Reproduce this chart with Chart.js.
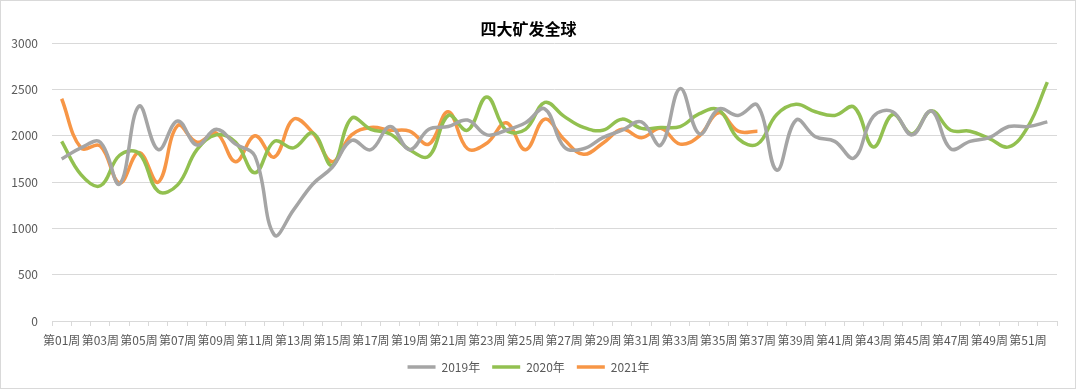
<!DOCTYPE html>
<html>
<head>
<meta charset="utf-8">
<script src="https://cdn.jsdelivr.net/npm/chart.js@4"></script>
<style>
  html, body { margin: 0; padding: 0; background: #fff; }
  #wrap { position: relative; width: 1080px; height: 391px; }
  #frame { position: absolute; left: 0; top: 0; width: 1076px; height: 389px; box-sizing: border-box; border: 1px solid #d9d9d9; }
  canvas { position: absolute; left: 0; top: 0; }
</style>
</head>
<body>
<div id="wrap">
  <div id="frame"></div>
  <canvas id="oreChart" width="1080" height="391"></canvas>
</div>
<script>
// weeks 01..52
const weeks = [];
for (let w = 1; w <= 52; w++) weeks.push('第' + String(w).padStart(2, '0') + '周');

const yTicks = [0, 500, 1000, 1500, 2000, 2500, 3000];

const ship2019 = [1750, 1870, 1930, 1480, 2320, 1850, 2160, 1900, 2070, 1910,
                  1780, 930, 1200, 1480, 1660, 1950, 1850, 2100, 1850, 2070,
                  2100, 2170, 2010, 2060, 2140, 2290, 1880, 1860, 1980, 2060,
                  2150, 1900, 2510, 2020, 2290, 2220, 2330, 1630, 2170, 1990,
                  1940, 1760, 2210, 2260, 2010, 2270, 1860, 1940, 1980, 2100,
                  2100, 2150];

const ship2020 = [1940, 1580, 1460, 1790, 1810, 1400, 1470, 1850, 2010, 1930,
                  1600, 1940, 1870, 2030, 1680, 2190, 2070, 2020, 1850, 1780,
                  2220, 2060, 2420, 2060, 2070, 2360, 2210, 2090, 2060, 2180,
                  2080, 2090, 2100, 2240, 2280, 1970, 1910, 2230, 2340, 2260,
                  2220, 2310, 1880, 2230, 2020, 2270, 2060, 2050, 1970, 1880,
                  2100, 2580];

const ship2021 = [2400, 1870, 1890, 1490, 1820, 1500, 2110, 1930, 2030, 1720,
                  2000, 1770, 2180, 2030, 1720, 2010, 2090, 2060, 2050, 1910,
                  2260, 1860, 1920, 2140, 1850, 2180, 1960, 1800, 1920, 2070,
                  1980, 2080, 1910, 2000, 2250, 2050, 2050];

const FONT = '"Noto Sans CJK SC", "Noto Sans", sans-serif';

var ctx = document.getElementById('oreChart').getContext('2d');
var oreChart = new Chart(ctx, {
    type: 'line',
    data: {
        labels: weeks,
        datasets: [{
            label: '2019年',
            data: ship2019,
            borderColor: '#a5a5a5',
            backgroundColor: '#a5a5a5',
            borderWidth: 3.5,
            pointRadius: 0,
            tension: 0.4
        }, {
            label: '2020年',
            data: ship2020,
            borderColor: '#92c050',
            backgroundColor: '#92c050',
            borderWidth: 3.5,
            pointRadius: 0,
            tension: 0.4
        }, {
            label: '2021年',
            data: ship2021,
            borderColor: '#f79646',
            backgroundColor: '#f79646',
            borderWidth: 3.5,
            pointRadius: 0,
            tension: 0.4
        }]
    },
    options: {
        responsive: false,
        animation: false,
        layout: { padding: { left: 0, right: 23, top: 0, bottom: 8 } },
        plugins: {
            title: {
                display: true,
                text: '四大矿发全球',
                color: '#000',
                font: { family: FONT, size: 16, weight: 'bold' },
                padding: { top: 19, bottom: 5 }
            },
            legend: {
                position: 'bottom',
                labels: {
                    usePointStyle: true,
                    pointStyle: 'line',
                    pointStyleWidth: 28,
                    padding: 12,
                    color: '#595959',
                    font: { family: FONT, size: 12 }
                }
            },
            tooltip: { enabled: false }
        },
        scales: {
            x: {
                offset: true,
                grid: {
                    offset: true,
                    drawOnChartArea: false,
                    drawTicks: true,
                    tickLength: 5,
                    color: '#d9d9d9'
                },
                border: { display: true, color: '#d9d9d9' },
                ticks: {
                    autoSkip: false,
                    maxRotation: 0,
                    minRotation: 0,
                    padding: 7,
                    color: '#595959',
                    font: { family: FONT, size: 12 },
                    callback: function (val, i) { return i % 2 === 0 ? weeks[i] : ''; }
                },
                afterFit: function (s) { s.height = 28; }
            },
            y: {
                min: yTicks[0],
                max: yTicks[yTicks.length - 1],
                afterBuildTicks: function (s) { s.ticks = yTicks.map(v => ({ value: v })); },
                grid: { color: '#d9d9d9', drawTicks: false },
                border: { display: false },
                ticks: {
                    padding: 14,
                    color: '#595959',
                    font: { family: FONT, size: 12 },
                    callback: function (v) { return String(v); }
                },
                afterFit: function (s) { s.width = 52; }
            }
        }
    }
});
</script>
</body>
</html>
